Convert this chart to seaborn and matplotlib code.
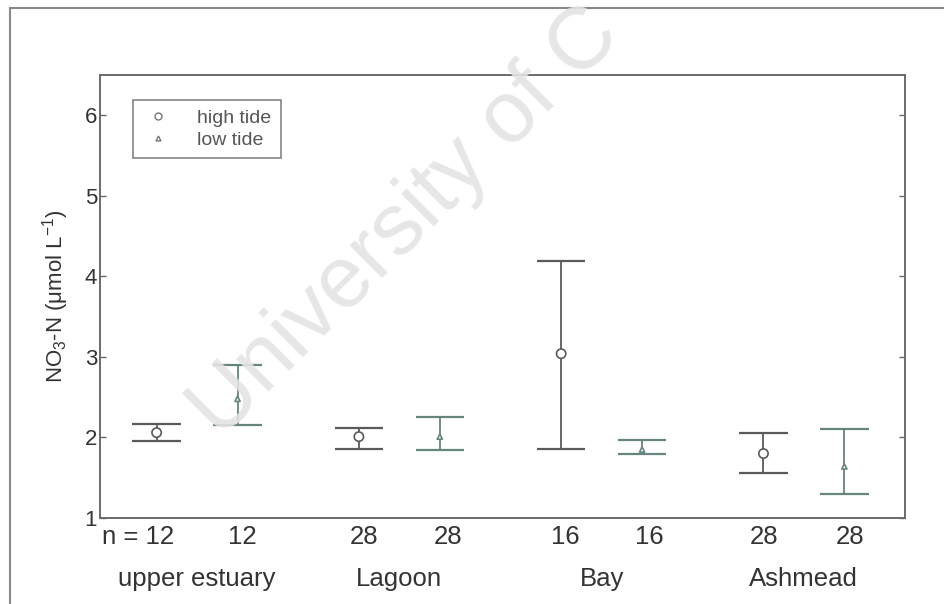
import seaborn as sns
import matplotlib.pyplot as plt
from matplotlib.lines import Line2D
from matplotlib.transforms import ScaledTranslation
import pandas as pd
import numpy as np

# ----- data -----
sites = ['upper estuary', 'Lagoon', 'Bay', 'Ashmead']
tides = ['high tide', 'low tide']
n_labels = ['n = 12', '12', '28', '28', '16', '16', '28', '28']

high_mean = [2.06, 2.01, 3.04, 1.80]
high_lo = [1.96, 1.86, 1.86, 1.56]
high_hi = [2.17, 2.12, 4.19, 2.06]

low_mean = [2.48, 2.01, 1.85, 1.64]
low_lo = [2.15, 1.84, 1.80, 1.30]
low_hi = [2.90, 2.25, 1.97, 2.10]

y_ticks = [1, 2, 3, 4, 5, 6]

sns.set_theme(style='white')
plt.rcParams['font.family'] = ['Liberation Sans', 'DejaVu Sans']
plt.rcParams['mathtext.fontset'] = 'custom'
plt.rcParams['mathtext.rm'] = 'Liberation Sans'
plt.rcParams['mathtext.it'] = 'Liberation Sans'

rows = []
for i, s in enumerate(sites):
    rows.append(dict(site=s, tide='high tide', x=i - 0.2, mean=high_mean[i], lo=high_lo[i], hi=high_hi[i]))
    rows.append(dict(site=s, tide='low tide', x=i + 0.2, mean=low_mean[i], lo=low_lo[i], hi=low_hi[i]))
df = pd.DataFrame(rows)

colors = {'high tide': '#5a5a5a', 'low tide': '#66857f'}

fig = plt.figure(figsize=(9.45, 6.04), dpi=100)
ax = fig.add_axes([0.1058, 0.1424, 0.8519, 0.7334])

# whiskers + caps
cap = 0.12
for _, r in df.iterrows():
    c = colors[r['tide']]
    ax.vlines(r['x'], r['lo'], r['hi'], color=c, lw=1.3, zorder=2)
    ax.hlines([r['lo'], r['hi']], r['x'] - cap, r['x'] + cap, color=c, lw=1.6, zorder=2)

sns.scatterplot(data=df, x='x', y='mean', hue='tide', style='tide',
                markers={'high tide': 'o', 'low tide': '^'},
                palette=colors, s=45, linewidth=1.2,
                ax=ax, zorder=3, legend=False)
# open markers, small triangles for low tide
pts = ax.collections[-1]
pts.set_edgecolors([colors[t] for t in df['tide']])
pts.set_facecolors('white')
pts.set_sizes([45 if t == 'high tide' else 14 for t in df['tide']])

ax.set_xlim(-0.48, 3.5)
ax.set_ylim(1, 6.5)
ax.set_yticks(y_ticks)
ax.set_yticklabels([str(v) for v in y_ticks], fontsize=16, color='#333333')
ax.set_xticks(df['x'])
ax.set_xticklabels(n_labels, fontsize=18.5, color='#333333')
ax.tick_params(axis='x', length=0, pad=5)
ax.tick_params(axis='y', direction='in', length=4, width=1, color='#666666',
               left=True, right=True, pad=2)
ax.set_xlabel('')
ax.set_ylabel('NO$_3$-N (μmol L$^{-1}$)', fontsize=16, color='#333333', labelpad=10)

# small horizontal nudges of the n labels (pixels)
shifts = [-19, 5, 5, 8, 4, 7, 1, 6]
for lab, dx in zip(ax.get_xticklabels(), shifts):
    lab.set_transform(lab.get_transform() + ScaledTranslation(dx / 100, 0, fig.dpi_scale_trans))

for sp in ax.spines.values():
    sp.set_color('#6a6a6a')
    sp.set_linewidth(1.4)

for i, s in enumerate(sites):
    ax.text(i, -0.137, s, transform=ax.get_xaxis_transform(), ha='center', va='center',
            fontsize=18.5, color='#333333')

handles = [Line2D([], [], marker='o', ls='', mfc='white', mec='#777777', ms=5),
           Line2D([], [], marker='^', ls='', mfc='white', mec='#777777', ms=3.5)]
leg = ax.legend(handles, tides, loc='upper left', bbox_to_anchor=(0.041, 0.944),
                borderaxespad=0, fontsize=14, frameon=True, fancybox=False,
                edgecolor='#666666', handletextpad=1.2, borderpad=0.5,
                labelspacing=0.2, handlelength=1.6)
leg.get_frame().set_linewidth(1.2)
for t in leg.get_texts():
    t.set_color('#555555')

# watermark of the scanned thesis page
fig.text(220 / 945, 1 - 440 / 604, 'University of C', rotation=45,
         rotation_mode='anchor', ha='left', va='baseline', fontsize=63,
         color='#e4e4e4', alpha=0.9, zorder=10)

# scanned page border
fig.add_artist(Line2D([10 / 945, 10 / 945], [0, 1 - 8 / 604], color='#888888', lw=1.5))
fig.add_artist(Line2D([10 / 945, 1], [1 - 8 / 604, 1 - 8 / 604], color='#888888', lw=1.5))

fig.savefig('out.png', dpi=100)
